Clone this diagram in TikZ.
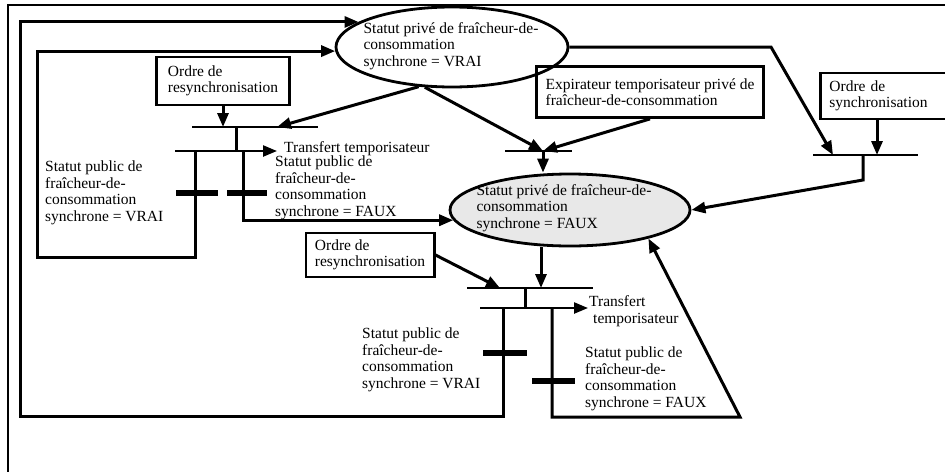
\documentclass[tikz,border=0pt]{standalone}
\usepackage{fontspec}
\setmainfont{Liberation Serif}
\usetikzlibrary{arrows.meta,shapes.geometric,calc}

\begin{document}
\begin{tikzpicture}[x=1pt, y=-1pt,
    font=\fontsize{15.5}{16.5}\selectfont,
    state/.style={draw, ellipse, line width=2.8pt, inner sep=0pt},
    statetext/.style={align=left, inner sep=0pt},
    order/.style={draw, line width=2.8pt, align=left, inner xsep=9pt, inner ysep=5pt},
    lbl/.style={anchor=west, align=left, inner sep=0pt},
    tip/.style={-{Triangle[length=14pt,width=11pt]}},
    arrow/.style={tip, line width=3pt},
    link/.style={line width=3pt},
    trbar/.style={line width=2.4pt},
    firebar/.style={line width=5.5pt}
]
\useasboundingbox (0,0) rectangle (945,472);

% cadre
\draw[line width=2.8pt] (945,5) -- (8,5) -- (8,472);

% etats
\node[state, minimum width=232, minimum height=80] (vrai) at (452,47) {};
\node[statetext] (vraitxt) at (451,46) {Statut privé de fraîcheur-de-\\consommation\\synchrone = VRAI};
\node[state, fill=gray!18, minimum width=240, minimum height=72] (faux) at (570,210) {};
\node[statetext] (fauxtxt) at (564,208) {Statut privé de fraîcheur-de-\\consommation\\synchrone = FAUX};

% ordres
\node[order, minimum width=133, minimum height=48] (rs1) at (223,81) {Ordre de\\resynchronisation};
\node[order, minimum width=210, minimum height=51] (expir) at (650,92) {Expirateur temporisateur privé de\\fraîcheur-de-consommation};
\node[order, minimum height=46, text width=130, anchor=west] (sync) at (819,96) {Ordre de\\synchronisation};
\node[order, minimum width=125, minimum height=44] (rs2) at (370,255) {Ordre de\\resynchronisation};

% transition haut gauche
\coordinate (t1l) at (192,127);
\coordinate (t1r) at (318,127);
\coordinate (t1a) at (277,127);
\coordinate (t1s) at (236,127);
\coordinate (b1l) at (175,151);
\coordinate (b1r) at (277,151);
\coordinate (b1v) at (195,151);
\coordinate (b1f) at (243,151);
\coordinate (loop1) at (37,257);

\draw[trbar] (t1l) -- (t1r);
\draw[arrow] (rs1.south) -- (rs1.south |- t1l);
\draw[arrow] (vrai.230) -- (t1a);
\draw[link] (t1s) -- (t1s |- b1l);
\draw[trbar, tip] (b1l) -- (b1r);
\node[lbl] (trf1) at (284,149) {Transfert temporisateur};
\draw[arrow] (b1v) |- (loop1) |- (vrai.182);
\draw[arrow] (b1f) |- (faux.185);
\draw[firebar] (176,193) -- (218,193);
\draw[firebar] (227,193) -- (267,193);
\node[lbl] (pubv1) at (45,193) {Statut public de\\fraîcheur-de-\\consommation\\synchrone = VRAI};
\node[lbl] (pubf1) at (275,188) {Statut public de\\fraîcheur-de-\\consommation\\synchrone = FAUX};

% transition expirateur
\coordinate (t2l) at (505,151);
\coordinate (t2r) at (572,151);
\coordinate (t2m) at (543,151);

\draw[trbar] (t2l) -- (t2r);
\draw[arrow] (vrai.236) -- (t2m);
\draw[arrow] (expir.south) -- (t2m);
\draw[arrow] (t2m) -- (t2m |- faux.north);

% transition synchronisation
\coordinate (t3l) at (813,155);
\coordinate (t3r) at (918,155);
\coordinate (t3a) at (833,155);
\coordinate (t3b) at (877,155);
\coordinate (t3s) at (863,155);
\coordinate (t3k) at (863,180);
\coordinate (bend) at (771,47);

\draw[trbar] (t3l) -- (t3r);
\draw[arrow] (vrai.east) -- (bend) -- (t3a);
\draw[arrow] (t3b |- sync.south) -- (t3b);
\draw[arrow] (t3s) -- (t3k) -- (faux.east);

% transition bas
\coordinate (t4l) at (467,288);
\coordinate (t4r) at (593,288);
\coordinate (t4a) at (500,288);
\coordinate (t4b) at (541,288);
\coordinate (t4s) at (525,288);
\coordinate (b2l) at (480,308);
\coordinate (b2r) at (588,308);
\coordinate (b2v) at (503,308);
\coordinate (b2f) at (552,308);
\coordinate (loop2) at (20,416);
\coordinate (ret) at (740,417);

\draw[trbar] (t4l) -- (t4r);
\draw[arrow] (rs2.east) -- (t4a);
\draw[arrow] (t4b |- faux.south) -- (t4b);
\draw[link] (t4s) -- (t4s |- b2l);
\draw[trbar, tip] (b2l) -- (b2r);
\node[lbl] (trf2) at (589,311) {Transfert\\\hspace{4pt}temporisateur};
\draw[arrow] (b2v) |- (loop2) |- (vrai.165);
\draw[arrow] (b2f) |- (ret) -- (faux.340);
\draw[firebar] (483,353) -- (527,353);
\draw[firebar] (532,381) -- (575,381);
\node[lbl] (pubv2) at (362,360) {Statut public de\\fraîcheur-de-\\consommation\\synchrone = VRAI};
\node[lbl] (pubf2) at (585,379) {Statut public de\\fraîcheur-de-\\consommation\\synchrone = FAUX};
\end{tikzpicture}
\end{document}
